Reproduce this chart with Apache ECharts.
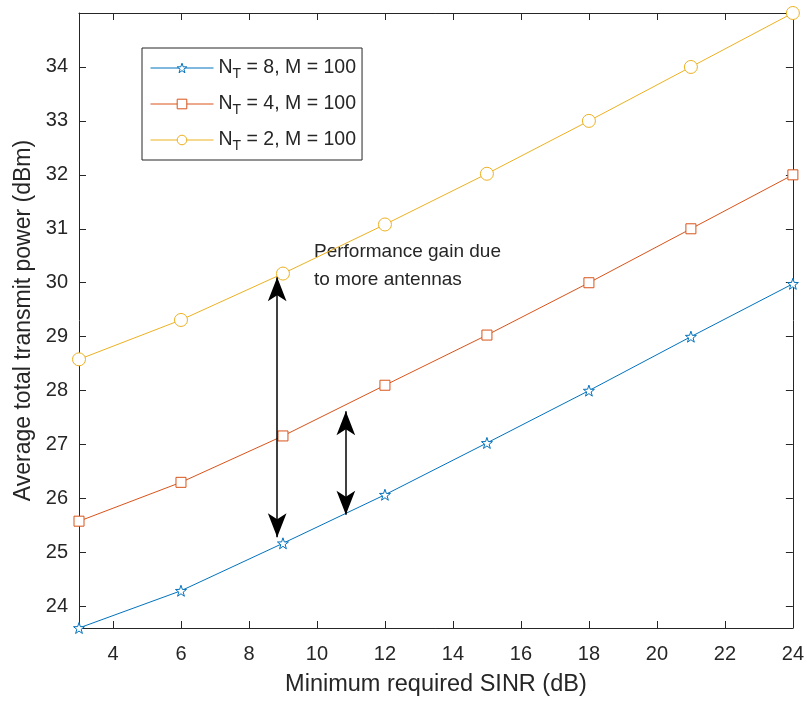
<!DOCTYPE html>
<html>
<head>
<meta charset="utf-8">
<script src="https://cdn.jsdelivr.net/npm/echarts@6/dist/echarts.min.js"></script>
<style>
  html, body { margin: 0; padding: 0; background: #fff; }
  #chart { width: 807px; height: 702px; }
</style>
</head>
<body>
<div id="chart"></div>
<script>
// x values (minimum required SINR, dB)
const sinr = [3, 6, 9, 12, 15, 18, 21, 24];
// average total transmit power (dBm)
const powerNT8 = [23.6, 24.29, 25.17, 26.07, 27.03, 28.0, 29.0, 29.98];
const powerNT4 = [25.58, 26.3, 27.16, 28.1, 29.03, 30.0, 31.0, 32.0];
const powerNT2 = [28.58, 29.31, 30.17, 31.08, 32.02, 33.0, 34.0, 35.0];
const seriesNames = ['N_T = 8, M = 100', 'N_T = 4, M = 100', 'N_T = 2, M = 100'];
const xTicks = [4, 6, 8, 10, 12, 14, 16, 18, 20, 22, 24];
const yTicks = [24, 25, 26, 27, 28, 29, 30, 31, 32, 33, 34];

const colors = ['#0072BD', '#D95319', '#EDB120'];
const starPath = 'path://M0,-10L2.35,-3.24L9.51,-3.09L3.8,1.24L5.88,8.09L0,4L-5.88,8.09L-3.8,1.24L-9.51,-3.09L-2.35,-3.24Z';
const txt = '#262626';
const font = 'Liberation Sans, Arial, sans-serif';

const chart = echarts.init(document.getElementById('chart'));

function mkSeries(name, ys, color, symbol, size, extra) {
    return Object.assign({
        name: name,
        type: 'line',
        data: sinr.map((x, i) => [x, ys[i]]),
        symbol: symbol,
        symbolSize: size,
        showAllSymbol: true,
        color: color,
        lineStyle: { color: color, width: 1 },
        itemStyle: { color: '#fff', borderColor: color, borderWidth: 1 },
        emphasis: { disabled: true },
        animation: false,
        z: 3
    }, extra || {});
}

const arrowStyle = {
    silent: true,
    symbol: ['arrow', 'arrow'],
    symbolSize: [14, 24],
    label: { show: false },
    lineStyle: { color: '#000', width: 1.5, type: 'solid' },
    animation: false
};

const xAxisBase = {
    type: 'value', min: 3, max: 24,
    axisLine: { show: true, onZero: false, lineStyle: { color: txt, width: 1 } },
    axisTick: { show: true, inside: true, length: 7, customValues: xTicks, lineStyle: { color: txt } },
    splitLine: { show: false }
};
const yAxisBase = {
    type: 'value', min: 23.6, max: 35,
    axisLine: { show: true, onZero: false, lineStyle: { color: txt, width: 1 } },
    axisTick: { show: true, inside: true, length: 7, customValues: yTicks, lineStyle: { color: txt } },
    splitLine: { show: false }
};

chart.setOption({
    backgroundColor: '#fff',
    textStyle: { fontFamily: font },
    grid: { left: 79, right: 11, top: 13, bottom: 73, containLabel: false },
    xAxis: [
        Object.assign({}, xAxisBase, {
            position: 'bottom',
            name: 'Minimum required SINR (dB)',
            nameLocation: 'middle',
            nameGap: 45,
            nameTextStyle: { fontSize: 23.5, color: txt, fontFamily: font },
            axisLabel: { show: true, customValues: xTicks, fontSize: 20, color: txt, margin: 16, fontFamily: font }
        }),
        Object.assign({}, xAxisBase, { position: 'top', axisLabel: { show: false } })
    ],
    yAxis: [
        Object.assign({}, yAxisBase, {
            position: 'left',
            name: 'Average total transmit power (dBm)',
            nameLocation: 'middle',
            nameGap: 41,
            nameTextStyle: { fontSize: 23, color: txt, fontFamily: font },
            axisLabel: { show: true, customValues: yTicks, fontSize: 20, color: txt, margin: 11, fontFamily: font }
        }),
        Object.assign({}, yAxisBase, { position: 'right', axisLabel: { show: false } })
    ],
    legend: {
        orient: 'vertical',
        left: 142,
        top: 48,
        padding: [7, 6, 7, 8],
        itemGap: 10,
        itemWidth: 63,
        itemHeight: 12,
        backgroundColor: '#fff',
        borderColor: txt,
        borderWidth: 1,
        selectedMode: false,
        data: seriesNames.map((n, i) => ({
            name: n,
            itemStyle: { color: '#fff', borderColor: colors[i], borderWidth: 1 },
            lineStyle: { color: colors[i], width: 1 }
        })),
        formatter: function (name) {
            const rest = name.replace('N_T', '');
            return '{n|N}{s|T}{n|' + rest + '}';
        },
        textStyle: {
            fontFamily: font,
            color: txt,
            rich: {
                n: { fontSize: 19.5, color: txt, fontFamily: font, lineHeight: 26 },
                s: { fontSize: 14, color: txt, fontFamily: font, lineHeight: 14, padding: [12, 0, 0, 0] }
            }
        }
    },
    graphic: [{
        type: 'text',
        left: 314,
        top: 238,
        silent: true,
        style: {
            text: 'Performance gain due\nto more antennas',
            fontSize: 19,
            lineHeight: 28,
            fontFamily: font,
            fill: txt
        }
    }],
    series: [
        mkSeries(seriesNames[0], powerNT8, colors[0], starPath, 11, {
            markLine: Object.assign({}, arrowStyle, {
                data: [
                    [{ coord: [8.83, 30.1] }, { coord: [8.83, 25.28] }],
                    [{ coord: [10.85, 27.62] }, { coord: [10.85, 25.7] }]
                ]
            })
        }),
        mkSeries(seriesNames[1], powerNT4, colors[1], 'rect', 10),
        mkSeries(seriesNames[2], powerNT2, colors[2], 'circle', 13)
    ]
});
</script>
</body>
</html>
